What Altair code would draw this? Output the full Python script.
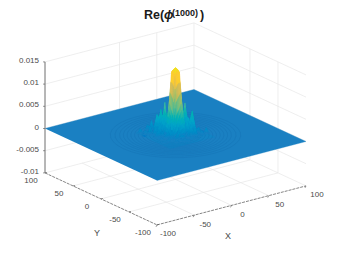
import altair as alt
import pandas as pd
import math

# ---- values ----
tick_xy = [-100, -50, 0, 50, 100]
tick_z = [-0.01, -0.005, 0, 0.005, 0.01, 0.015]
z_labels = ["-0.01", "-0.005", "0", "0.005", "0.01", "0.015"]
xy_labels = ["-100", "-50", "0", "50", "100"]
ring_radii = [24, 28, 32, 36, 40, 44, 48, 52, 56, 60, 65, 70]
STEP = 3
plateau_x = [-30, 30, 30, -30]
plateau_y = [-30, -30, 30, 30]
plateau_z = 0.0003
# central spike
node_x = [0, 3,-3, 0, 0, 3,-3, 3,-3, 6,-6, 0, 0, 6, 6,-6,-6, 3, 3,-3,-3, 6, 6,-6,-6, 9,-9, 3,-3]
node_y = [0, 0, 0, 3,-3, 3,-3,-3, 3, 0, 0, 6,-6, 3,-3, 3,-3, 6,-6, 6,-6, 6,-6, 6,-6, -3, 3,-9, 9]
node_z = [.0152,.0146,.0146,.0146,.0146,.0135,.0135,.0142,.0142,.0060,.0060,.0060,.0060,.0050,.0072,.0072,.0050,.0050,.0072,.0072,.0050,.0030,.0040,.0040,.0030,.0030,.0030,.0030,.0030]
# ripple crests behind the spike
node_x += [-3,-6,-9,-12, 15,18,21,27, 0, 9,-6,12,-9, 9,-9, 0,-12,12,-15,15,-18,18,-21,24,-24,27,30,-27,-15,30]
node_y += [15,18,21,27, 3,-6,-9,-12, 9, 0,12,-6, 9,-9, 0,-9, 12,-12,15,-15, 21,-18,24,-9,24,-12,-9,27,30,-15]
node_z += [.0066,.0050,.0038,.0022, .0064,.0050,.0038,.0022, .0038,.0038,.0033,.0033,.0032,.0032,.0026,.0026,.0024,.0024,.0016,.0016,
           .0014,.0016,-.0006,.0012,-.0007,-.0005,-.0006,.0010,.0012,.0012]
# low bumps in front and at the sides
node_x += [-12,-6,-3, 6,12,-18,18,-15,-3, -9,-9,-15,-21, 12,18,24,-6,-12,-18, 6,12,18, 0, 0,-12,-15,-9, 9,15,-21,-24,21,24]
node_y += [-3,-12,-15,-15,-6,  6,-3, -3,-21, -6,-12, 3, 6, -15,-12,-3, -18,-18,-12,-21,-21,-18,-15,-24,-9,-9,-15,-12,-9,-3,-12, -9, 0]
node_z += [.0012,.0012,.0010,.0010,.0012,.0014,.0012,.0008,.0006, .0010,.0006,.0012,.0008, .0006,.0006,.0006,.0005,.0004,.0005,.0005,.0004,.0004,.0007,.0004,.0006,.0005,.0005,.0007,.0006,.0005,.0003,.0004,.0004]
# shoulders and extra crests between the main ones
node_x += [-3,-6,-12,3, 12,9,15, 6,-15,-18, 15,18,21, 3, 6,-9,-12, 18,21,-9,-6, 12,15,-21,-24,24,27]
node_y += [12,15,18,12, 3,6,6, 12, 9,12, -6,-9,-3, 15,18,18,21, 0,-6,24,21, 3,0, 18,21,-15,-6]
node_z += [.0034,.0026,.0022,.0028,.0034,.0028,.0020,.0022,.0022,.0018,.0030,.0022,.0016,.0024,.0018,.0018,.0014, .0030,.0018,.0016,.0026, .0034,.0034,.0010,.0008,.0008,.0008]

parula = ["#352a87", "#0f5cdd", "#1a80c2", "#06a4ca", "#2eb7a4", "#87bf77", "#d1bb59", "#fec832", "#f0e020"]
z_stops = [-0.005, -0.0025, 0, 0.0025, 0.005, 0.0075, 0.01, 0.0125, 0.015]

def sx(X, Y): return 175.5 + 0.745 * X - 0.56 * Y
def sy(X, Y, Z): return 135 - 0.195 * X - 0.26 * Y - 4440 * Z

nodes = {(a, b): c for a, b, c in zip(node_x, node_y, node_z)}
def nz(a, b): return nodes.get((a, b), 0.0)

SUB = 3  # facets per mesh cell, so that colour follows height within a cell
cells = []
cid = 0
rng = range(-39, 39, STEP)
order = sorted(((a, b) for a in rng for b in rng), key=lambda t: -(t[0] + t[1]))
for a, b in order:
    z00, z10, z11, z01 = nz(a, b), nz(a + STEP, b), nz(a + STEP, b + STEP), nz(a, b + STEP)
    if not any((z00, z10, z11, z01)):
        continue
    def h(u, v):
        return z00 * (1 - u) * (1 - v) + z10 * u * (1 - v) + z11 * u * v + z01 * (1 - u) * v
    for i in range(SUB - 1, -1, -1):
        for j in range(SUB - 1, -1, -1):
            us = [i / SUB, (i + 1) / SUB]
            vs = [j / SUB, (j + 1) / SUB]
            quad = [(us[0], vs[0]), (us[1], vs[0]), (us[1], vs[1]), (us[0], vs[1])]
            mean = sum(h(u, v) for u, v in quad) / 4
            for k, (u, v) in enumerate(quad):
                XX, YY = a + STEP * u, b + STEP * v
                cells.append(dict(cell=cid, v=k, z=mean, px=sx(XX, YY), py=sy(XX, YY, h(u, v))))
            cid += 1
cells = pd.DataFrame(cells)

flat = pd.DataFrame([dict(cell=0, v=k, z=0.0, px=sx(a, b), py=sy(a, b, 0))
                     for k, (a, b) in enumerate([(-100, -100), (100, -100), (100, 100), (-100, 100)])])
plateau = pd.DataFrame([dict(cell=0, v=k, z=plateau_z, px=sx(a, b), py=sy(a, b, 0))
                        for k, (a, b) in enumerate(zip(plateau_x, plateau_y))])

ring_rows = []
for r in ring_radii:
    for t in range(0, 361, 10):
        a, b = r * math.cos(math.radians(t)), r * math.sin(math.radians(t))
        ring_rows.append(dict(r=r, t=t, px=sx(a, b), py=sy(a, b, 0)))
rings = pd.DataFrame(ring_rows)

def P(X, Y, Z): return (sx(X, Y), sy(X, Y, Z))
def table(pairs):
    rows = []
    for i, (p, q) in enumerate(pairs):
        rows.append(dict(id=i, k=0, px=p[0], py=p[1]))
        rows.append(dict(id=i, k=1, px=q[0], py=q[1]))
    return pd.DataFrame(rows)

gl = []
for z in tick_z:
    gl.append((P(-100, 100, z), P(100, 100, z)))
    gl.append((P(100, 100, z), P(100, -100, z)))
for v in [0, 50]:
    gl.append((P(v, 100, -0.01), P(v, 100, 0.015)))
for v in [0, -50]:
    gl.append((P(100, v, -0.01), P(100, v, 0.015)))
gl.append((P(100, 100, -0.01), P(100, 100, 0.015)))
for v in [-50, 0, 50]:
    gl.append((P(v, -100, -0.01), P(v, 100, -0.01)))
    gl.append((P(-100, v, -0.01), P(100, v, -0.01)))
grid = table(gl)

zaxis = table([(P(-100, 100, -0.01), P(-100, 100, 0.015))])
xyaxis = table([(P(-100, 100, -0.01), P(-100, -100, -0.01)), (P(-100, -100, -0.01), P(100, -100, -0.01))])
tk = []
for z in tick_z:
    p = P(-100, 100, z)
    tk.append(((p[0] - 2, p[1]), p))
for v in tick_xy:
    p = P(v, -100, -0.01)
    tk.append((p, (p[0] - 1.0, p[1] + 2)))
    p = P(-100, v, -0.01)
    tk.append((p, (p[0] + 2, p[1] - 0.5)))
ticks = table(tk)

texts = []
for z, l in zip(tick_z, z_labels):
    p = P(-100, 100, z)
    texts.append(dict(t=l, px=p[0] - 6, py=p[1] - 1, al="right"))
for v, l in zip(tick_xy, xy_labels):
    p = P(v, -100, -0.01)
    texts.append(dict(t=l, px=p[0] + 11, py=p[1] + 9.5, al="center"))
    p = P(-100, v, -0.01)
    texts.append(dict(t=l, px=p[0] - 14, py=p[1] + 8, al="center"))
texts = pd.DataFrame(texts)
names = pd.DataFrame([dict(t="X", px=228, py=236), dict(t="Y", px=97, py=233)])

X = alt.X("px:Q", scale=alt.Scale(domain=[8, 331]), axis=None)
Y = alt.Y("py:Q", scale=alt.Scale(domain=[246, 8]), axis=None)
C = dict(scale=alt.Scale(domain=z_stops, range=parula), legend=None)

grid_l = alt.Chart(grid).mark_line(color="#e6e6e6", strokeWidth=0.7).encode(X, Y, detail="id:N", order="k:Q")
def poly(df):
    return alt.Chart(df).mark_line(strokeWidth=0.3).encode(
        X, Y, detail="cell:N", order="v:Q",
        fill=alt.Fill("z:Q", **C), stroke=alt.Stroke("z:Q", **C))
rings_l = alt.Chart(rings).mark_line(color="#0b5f9e", strokeWidth=0.6, opacity=0.3).encode(X, Y, detail="r:N", order="t:Q")
z_l = alt.Chart(zaxis).mark_line(color="#6e6e6e", strokeWidth=1).encode(X, Y, detail="id:N", order="k:Q")
xy_l = alt.Chart(xyaxis).mark_line(color="#666666", strokeWidth=0.8, strokeDash=[3, 1]).encode(X, Y, detail="id:N", order="k:Q")
t_l = alt.Chart(ticks).mark_line(color="#555555", strokeWidth=0.6).encode(X, Y, detail="id:N", order="k:Q")
def txt(df, al):
    return alt.Chart(df).mark_text(font="Liberation Sans", fontSize=8, color="#4a4a4a", align=al, baseline="middle").encode(X, Y, text="t:N")
lab_r = txt(texts[texts.al == "right"], "right")
lab_c = txt(texts[texts.al == "center"], "center")
nam = alt.Chart(names).mark_text(font="Liberation Sans", fontSize=9, color="#4a4a4a", align="center", baseline="middle").encode(X, Y, text="t:N")

def title(text, px, py, size, style="normal"):
    d = pd.DataFrame([dict(t=text, px=px, py=py)])
    return alt.Chart(d).mark_text(font="Liberation Sans", fontSize=size, fontWeight="bold", fontStyle=style,
                                  color="#1a1a1a", align="left", baseline="alphabetic").encode(X, Y, text="t:N")
tt = title("Re(", 144, 19, 12.5) + title("ϕ", 164, 19, 12.5, "italic") + title("(1000)", 172, 15.5, 9) + title(")", 200, 19, 12.5)

chart = alt.layer(grid_l, poly(flat), poly(plateau), rings_l, poly(cells), z_l, xy_l, t_l, lab_r, lab_c, nam, tt).properties(
    width=323, height=238, padding=0, autosize=alt.AutoSizeParams(type="none")
).configure_view(stroke=None)
chart.save("out.html", embed_options={"renderer": "svg", "actions": False})
